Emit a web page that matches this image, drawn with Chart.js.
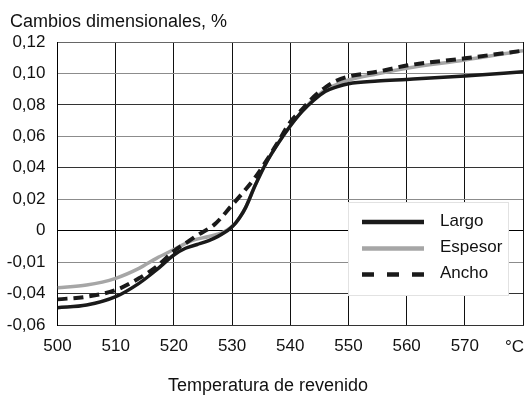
<!DOCTYPE html>
<html>
<head>
<meta charset="utf-8">
<script src="https://cdn.jsdelivr.net/npm/chart.js@4/dist/chart.umd.min.js"></script>
<style>
  html, body { margin: 0; padding: 0; background: #fff; }
  #wrap { width: 527px; height: 396px; position: relative; }
</style>
</head>
<body>
<div id="wrap"><canvas id="c" width="527" height="396"></canvas></div>
<script>
// Dimensional change (%) versus tempering temperature (°C)
const yHeading = 'Cambios dimensionales, %';
const xHeading = 'Temperatura de revenido';

const xTickLabels = ['500', '510', '520', '530', '540', '550', '560', '570', '°C'];
// bottom to top
const yTickLabels = ['-0,06', '-0,04', '-0,01', '0', '0,02', '0,04', '0,06', '0,08', '0,10', '0,12'];

const seriesNames = ['Largo', 'Espesor', 'Ancho'];

const largoT = [500, 505, 510, 514, 517, 520, 522, 524, 526, 527.5, 528.7, 529.7, 530.6, 531.4, 532.3, 534, 536, 538, 540, 542, 544, 546, 548, 550, 555, 560, 570, 580];
const largoV = [-0.049, -0.0473, -0.042, -0.0335, -0.025, -0.0155, -0.0112, -0.0088, -0.0063, -0.0038, -0.0012, 0.0015, 0.0048, 0.0088, 0.0145, 0.029, 0.044, 0.056, 0.0666, 0.0757, 0.0828, 0.0885, 0.0915, 0.0935, 0.0952, 0.0962, 0.0984, 0.1011];

const espesorT = [500, 505, 510, 514, 517, 520, 523, 526, 527.5, 528.7, 529.7, 530.6, 531.4, 532.3, 534, 536, 538, 540, 542, 544, 546, 548, 550, 555, 560, 570, 580];
const espesorV = [-0.0363, -0.0346, -0.0303, -0.024, -0.0176, -0.012, -0.0065, -0.0037, -0.0022, -0.0005, 0.0018, 0.0048, 0.0088, 0.0145, 0.029, 0.044, 0.056, 0.0666, 0.0757, 0.0835, 0.0895, 0.093, 0.0958, 0.0998, 0.1033, 0.1085, 0.1145];

const anchoT = [500, 505, 510, 514, 517, 520, 522, 524, 527, 530, 532, 534, 536, 538, 540, 542, 544, 546, 548, 550, 555, 560, 570, 580];
const anchoV = [-0.0437, -0.042, -0.0378, -0.0303, -0.0229, -0.013, -0.008, -0.003, 0.004, 0.0163, 0.0248, 0.034, 0.045, 0.057, 0.069, 0.077, 0.085, 0.091, 0.0955, 0.098, 0.1011, 0.105, 0.1096, 0.1145];

const toPoints = (ts, vs) => ts.map((t, i) => ({ x: t, y: vs[i] }));

const FONT = 'Liberation Sans, Arial, sans-serif';

const lineStyles = {
  Largo:   { color: '#1a1a1a', width: 3.5, dash: [],       legendDash: [] },
  Espesor: { color: '#a6a6a6', width: 3.5, dash: [],       legendDash: [] },
  Ancho:   { color: '#1a1a1a', width: 4,   dash: [10, 6],  legendDash: [12, 13] }
};

// Legend box and outer labels
const annotations = {
  id: 'annotations',
  afterDatasetsDraw(chart) {
    const { ctx } = chart;
    ctx.save();
    const bx = 348, by = 202, bw = 160, bh = 93;
    ctx.fillStyle = '#fff';
    ctx.fillRect(bx, by, bw, bh);
    ctx.strokeStyle = '#e2e2e2';
    ctx.lineWidth = 1;
    ctx.strokeRect(bx + 0.5, by + 0.5, bw, bh);
    const rows = [222, 248.5, 274.5];
    ctx.font = '17px ' + FONT;
    ctx.textBaseline = 'middle';
    ctx.textAlign = 'left';
    seriesNames.forEach((name, i) => {
      const st = lineStyles[name];
      ctx.beginPath();
      ctx.setLineDash(st.legendDash);
      ctx.lineWidth = 4.5;
      ctx.strokeStyle = st.color;
      ctx.moveTo(362, rows[i]);
      ctx.lineTo(424, rows[i]);
      ctx.stroke();
      ctx.setLineDash([]);
      ctx.fillStyle = '#111';
      ctx.fillText(name, 440, rows[i] - 1);
    });
    ctx.restore();
  },
  afterDraw(chart) {
    const { ctx, chartArea } = chart;
    ctx.save();
    ctx.fillStyle = '#111';
    ctx.font = '18px ' + FONT;
    ctx.textBaseline = 'alphabetic';
    ctx.textAlign = 'left';
    ctx.fillText(yHeading, 10, 27);
    ctx.textAlign = 'center';
    ctx.fillText(xHeading, 268, 391);
    // unit label sits flush with the right edge of the plot
    ctx.font = '17px ' + FONT;
    ctx.textAlign = 'right';
    ctx.textBaseline = 'middle';
    ctx.fillText(xTickLabels[xTickLabels.length - 1], chartArea.right + 1, 347);
    ctx.restore();
  }
};

const mkDataset = (name, ts, vs, order) => {
  const st = lineStyles[name];
  return {
    label: name,
    data: toPoints(ts, vs),
    borderColor: st.color,
    borderWidth: st.width,
    borderDash: st.dash,
    pointRadius: 0,
    fill: false,
    cubicInterpolationMode: 'monotone',
    borderCapStyle: 'butt',
    order: order
  };
};

new Chart(document.getElementById('c'), {
  type: 'line',
  data: {
    datasets: [
      mkDataset('Largo', largoT, largoV, 1),
      mkDataset('Espesor', espesorT, espesorV, 2),
      mkDataset('Ancho', anchoT, anchoV, 0)
    ]
  },
  options: {
    responsive: false,
    animation: false,
    devicePixelRatio: 1,
    layout: { padding: { top: 42, right: 4, bottom: 0, left: 0 } },
    plugins: { legend: { display: false }, tooltip: { enabled: false }, title: { display: false } },
    scales: {
      x: {
        type: 'linear',
        min: 500, max: 580,
        ticks: {
          stepSize: 10,
          padding: 11,
          color: '#111',
          font: { family: FONT, size: 17 },
          maxRotation: 0,
          callback: (v) => {
            const i = Math.round((v - 500) / 10);
            return i === xTickLabels.length - 1 ? '' : xTickLabels[i];
          }
        },
        grid: { color: '#111', lineWidth: 1, drawTicks: false },
        border: { color: '#333', width: 1 },
        afterFit: (s) => { s.height = 71; s.paddingRight = 0; s.paddingLeft = 0; }
      },
      y: {
        type: 'linear',
        min: -0.06, max: 0.12,
        ticks: {
          stepSize: 0.02,
          padding: 12,
          color: '#111',
          font: { family: FONT, size: 17 },
          callback: (v) => yTickLabels[Math.round((v + 0.06) / 0.02)]
        },
        grid: {
          drawTicks: false,
          lineWidth: 1,
          color: (c) => {
            const i = c.index;
            if (i === 3) return '#000';
            if (i === 9) return '#666';
            return (i % 2 === 0) ? '#8c8c8c' : '#333';
          }
        },
        border: { color: '#000', width: 1 },
        afterFit: (s) => { s.width = 57.5; }
      }
    }
  },
  plugins: [annotations]
});
</script>
</body>
</html>
